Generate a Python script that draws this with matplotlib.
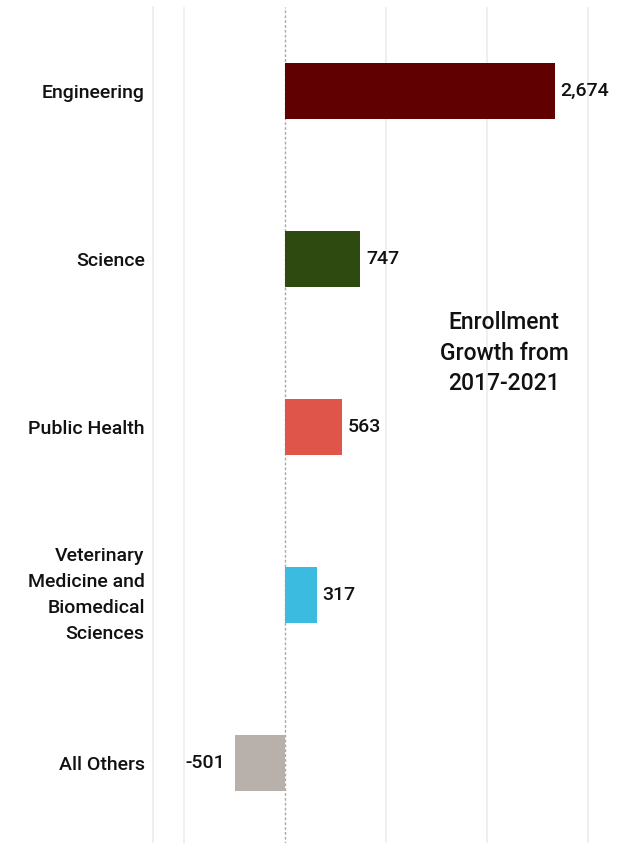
import matplotlib.pyplot as plt

# Enrollment growth by college, 2017-2021
colleges = ['Engineering', 'Science', 'Public Health',
            'Veterinary\nMedicine and\nBiomedical\nSciences', 'All Others']
growth = [2674, 747, 563, 317, -501]
colors = ['#600000', '#2f4a10', '#e0554a', '#3bbbe0', '#b8b0ab']

plt.rcParams['font.family'] = ['Roboto', 'DejaVu Sans']
plt.rcParams['font.weight'] = 500

fig = plt.figure(figsize=(6.18, 8.43), dpi=100)
ax = fig.add_axes([153 / 618, -4 / 843, 1 - 153 / 618, 840 / 843])

ypos = list(range(len(colleges)))
ax.barh(ypos, growth, height=0.33, color=colors, zorder=3)

for y, v in zip(ypos, growth):
    if v >= 0:
        ax.annotate(f'{v:,}', (v, y), xytext=(4, 0), textcoords='offset points',
                    ha='left', va='center', fontsize=14, color='#111111')
    else:
        ax.annotate(f'{v:,}', (v, y), xytext=(-7, 0),
                    textcoords='offset points', ha='right', va='center',
                    fontsize=14, color='#111111')

ax.set_xlim(-1310, 3300)
ax.set_ylim(4.5, -0.5)
ax.set_xticks([-1000, 1000, 2000, 3000])
ax.grid(axis='x', color='#efefef', linewidth=1.4, zorder=0)
ax.axvline(0, color='#a8a8a8', linestyle=(0, (2, 1.5)), linewidth=1.0, zorder=2)
ax.tick_params(axis='x', length=0, labelbottom=False)
ax.tick_params(axis='y', length=0, pad=6)
ax.set_yticks(ypos)
labels = ax.set_yticklabels(colleges, fontsize=14, color='#111111', ha='right',
                            multialignment='right', linespacing=1.58)
labels[3].set_va('center')

for side in ['top', 'right', 'bottom']:
    ax.spines[side].set_visible(False)
ax.spines['left'].set_color('#efefef')
ax.spines['left'].set_linewidth(1.4)

ax.text(2170, 1.56, 'Enrollment\nGrowth from\n2017-2021', ha='center', va='center',
        fontsize=16.5, color='#111111', linespacing=1.42)

fig.savefig('out.png', dpi=100)
